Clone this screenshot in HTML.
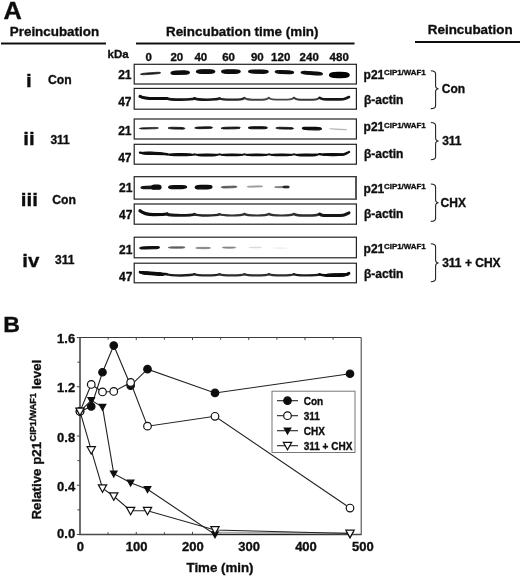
<!DOCTYPE html>
<html lang="en"><head><meta charset="utf-8"><title>Figure</title>
<style>html,body{margin:0;padding:0;background:#fff}svg{display:block}text{font-family:"Liberation Sans", sans-serif;font-weight:bold;fill:#111;stroke:#111;stroke-width:0.35px;stroke-linejoin:round}</style>
</head><body>
<svg width="520" height="578" viewBox="0 0 520 578">
<defs><filter id="b" x="-5%" y="-50%" width="110%" height="200%"><feGaussianBlur stdDeviation="0.55"/></filter>
<filter id="t" x="-5%" y="-5%" width="110%" height="110%"><feGaussianBlur stdDeviation="0.3"/></filter></defs>
<rect width="520" height="578" fill="#fff"/>
<g filter="url(#t)">
<text transform="translate(3.6 18.6) scale(1.08 1)" font-size="23.5" stroke-width="0.6">A</text>
<text transform="translate(3.2 332) scale(1.05 1)" font-size="22" stroke-width="0.6">B</text>
<text x="9.8" y="36.3" font-size="13.4" text-anchor="start">Preincubation</text>
<text x="166" y="36.4" font-size="13.4" text-anchor="start">Reincubation time (min)</text>
<text x="427.8" y="34.4" font-size="13.4" text-anchor="start">Reincubation</text>
<g stroke="#111" stroke-width="1.8">
<line x1="1" y1="43.5" x2="106" y2="43.5"/>
<line x1="136" y1="43.5" x2="354.5" y2="43.5"/>
<line x1="415" y1="42" x2="520" y2="42"/>
</g>
<text x="107.5" y="57.6" font-size="11.5" text-anchor="start">kDa</text>
<text x="148.7" y="61.2" font-size="11.5" text-anchor="middle">0</text>
<text x="176.8" y="61.2" font-size="11.5" text-anchor="middle">20</text>
<text x="200.8" y="61.2" font-size="11.5" text-anchor="middle">40</text>
<text x="228.6" y="61.2" font-size="11.5" text-anchor="middle">60</text>
<text x="257.3" y="61.2" font-size="11.5" text-anchor="middle">90</text>
<text x="280.7" y="61.2" font-size="11.5" text-anchor="middle">120</text>
<text x="309.2" y="61.2" font-size="11.5" text-anchor="middle">240</text>
<text x="339.2" y="61.2" font-size="11.5" text-anchor="middle">480</text>
<text transform="translate(26.1 87.4) scale(1.09 1)" font-size="18.8" stroke-width="0.7">i</text>
<text transform="translate(23.3 144.9) scale(1.09 1)" font-size="18.8" stroke-width="0.7">ii</text>
<text transform="translate(20.8 205.6) scale(1.09 1)" font-size="18.8" stroke-width="0.7">iii</text>
<text transform="translate(22.2 267.1) scale(1.09 1)" font-size="18.8" stroke-width="0.7">iv</text>
<text x="48" y="84.3" font-size="12.2" text-anchor="start">Con</text>
<text x="50.4" y="144.1" font-size="12" text-anchor="start">311</text>
<text x="52.3" y="204" font-size="12.2" text-anchor="start">Con</text>
<text x="55.1" y="263.9" font-size="12" text-anchor="start">311</text>
<rect x="134.2" y="64.3" width="222.2" height="19.7" fill="#fff" stroke="#222" stroke-width="1.2"/>
<text x="131.5" y="78.5" font-size="12" text-anchor="end">21</text>
<text x="363.6" y="79.2" font-size="12">p21<tspan font-size="7.9" dy="-3.8" dx="-0.3">CIP1/WAF1</tspan></text>
<rect x="134.2" y="88.4" width="222.2" height="20.8" fill="#fff" stroke="#222" stroke-width="1.2"/>
<text x="131.5" y="105.7" font-size="12" text-anchor="end">47</text>
<text x="364" y="103.5" font-size="12">β-actin</text>
<rect x="134.2" y="119" width="222.2" height="20" fill="#fff" stroke="#222" stroke-width="1.2"/>
<text x="131.5" y="134.7" font-size="12" text-anchor="end">21</text>
<text x="363.6" y="131.3" font-size="12">p21<tspan font-size="7.9" dy="-3.8" dx="-0.3">CIP1/WAF1</tspan></text>
<rect x="134.2" y="144.3" width="222.2" height="19.9" fill="#fff" stroke="#222" stroke-width="1.2"/>
<text x="131.5" y="161.9" font-size="12" text-anchor="end">47</text>
<text x="364" y="157.8" font-size="12">β-actin</text>
<rect x="134.2" y="176.7" width="222.2" height="22.4" fill="#fff" stroke="#222" stroke-width="1.2"/>
<text x="132.4" y="191.8" font-size="12" text-anchor="end">21</text>
<text x="363.6" y="192.5" font-size="12">p21<tspan font-size="7.9" dy="-3.8" dx="-0.3">CIP1/WAF1</tspan></text>
<rect x="134.2" y="204" width="222.2" height="20.2" fill="#fff" stroke="#222" stroke-width="1.2"/>
<text x="132.4" y="219.2" font-size="12" text-anchor="end">47</text>
<text x="364" y="218.3" font-size="12">β-actin</text>
<rect x="134.2" y="237.2" width="222.2" height="20.6" fill="#fff" stroke="#222" stroke-width="1.2"/>
<text x="132.4" y="253.5" font-size="12" text-anchor="end">21</text>
<text x="363.6" y="252.6" font-size="12">p21<tspan font-size="7.9" dy="-3.8" dx="-0.3">CIP1/WAF1</tspan></text>
<rect x="134.2" y="263.2" width="222.2" height="19.6" fill="#fff" stroke="#222" stroke-width="1.2"/>
<text x="132.4" y="280.7" font-size="12" text-anchor="end">47</text>
<text x="364" y="278" font-size="12">β-actin</text>
<line x1="356" y1="176.7" x2="356" y2="199.1" stroke="#555" stroke-width="2"/>
<path d="M430.8 70.8 Q435.6 70.8 435.6 74.0 L435.6 85.6 Q435.6 88.8 438.6 88.8 Q435.6 88.8 435.6 92.0 L435.6 105.39999999999999 Q435.6 108.6 430.8 108.6" fill="none" stroke="#222" stroke-width="1.1"/>
<text x="441.8" y="93" font-size="12" text-anchor="start">Con</text>
<path d="M430.8 122.5 Q435.6 122.5 435.6 125.7 L435.6 137.8 Q435.6 141 438.6 141 Q435.6 141 435.6 144.2 L435.6 156.60000000000002 Q435.6 159.8 430.8 159.8" fill="none" stroke="#222" stroke-width="1.1"/>
<text x="442.2" y="145" font-size="12" text-anchor="start">311</text>
<path d="M430.8 184 Q435.6 184 435.6 187.2 L435.6 199.60000000000002 Q435.6 202.8 438.6 202.8 Q435.6 202.8 435.6 206.0 L435.6 218.20000000000002 Q435.6 221.4 430.8 221.4" fill="none" stroke="#222" stroke-width="1.1"/>
<text x="440.6" y="207" font-size="12" text-anchor="start">CHX</text>
<path d="M430.8 243.8 Q435.6 243.8 435.6 247.0 L435.6 259.8 Q435.6 263 438.6 263 Q435.6 263 435.6 266.2 L435.6 278.6 Q435.6 281.8 430.8 281.8" fill="none" stroke="#222" stroke-width="1.1"/>
<text x="442.2" y="266.7" font-size="12" text-anchor="start">311 + CHX</text>
</g>
<g filter="url(#b)" stroke-linecap="round" fill="none">
<path d="M140.8 74.2 C140.8 73.65 142.9 73.27 146.7 73.0 L154.7 72.44 C158.5 72.17 160.6 72.25 160.6 72.8 C160.6 73.35 158.5 73.73 154.7 74.0 L146.7 74.56 C142.9 74.83 140.8 74.75 140.8 74.2Z" fill="#1f1f1f" stroke="#1f1f1f" stroke-width="0.84" stroke-linejoin="round"/>
<path d="M171.1 72.9 C171.1 71.82 173.0 71.31 176.6 71.23 L183.8 71.07 C187.4 70.99 189.3 71.42 189.3 72.5 C189.3 73.58 187.4 74.09 183.8 74.17 L176.6 74.33 C173.0 74.41 171.1 73.98 171.1 72.9Z" fill="#080808" stroke="#080808" stroke-width="1.4" stroke-linejoin="round"/>
<path d="M196.5 71.6 C196.5 70.38 198.4 69.85 202.0 69.85 L209.2 69.85 C212.8 69.85 214.7 70.38 214.7 71.6 C214.7 72.82 212.8 73.35 209.2 73.35 L202.0 73.35 C198.4 73.35 196.5 72.82 196.5 71.6Z" fill="#080808" stroke="#080808" stroke-width="1.4" stroke-linejoin="round"/>
<path d="M221.7 71.6 C221.7 70.44 223.6 69.95 227.2 69.95 L234.6 69.95 C238.2 69.95 240.1 70.44 240.1 71.6 C240.1 72.75 238.2 73.25 234.6 73.25 L227.2 73.25 C223.6 73.25 221.7 72.75 221.7 71.6Z" fill="#080808" stroke="#080808" stroke-width="1.4" stroke-linejoin="round"/>
<path d="M248.7 71.6 C248.7 70.58 250.7 70.17 254.5 70.21 L262.3 70.29 C266.1 70.33 268.1 70.78 268.1 71.8 C268.1 72.81 266.1 73.23 262.3 73.19 L254.5 73.11 C250.7 73.07 248.7 72.61 248.7 71.6Z" fill="#080808" stroke="#080808" stroke-width="1.4" stroke-linejoin="round"/>
<path d="M275.3 71.8 C275.3 70.91 277.2 70.59 280.8 70.71 L288.0 70.95 C291.6 71.07 293.5 71.51 293.5 72.4 C293.5 73.29 291.6 73.61 288.0 73.49 L280.8 73.25 C277.2 73.13 275.3 72.69 275.3 71.8Z" fill="#080808" stroke="#080808" stroke-width="1.36" stroke-linejoin="round"/>
<path d="M301.2 72.4 C301.2 71.51 303.4 71.3 307.5 71.61 L316.0 72.25 C320.1 72.56 322.3 73.11 322.3 74.0 C322.3 74.89 320.1 75.1 316.0 74.79 L307.5 74.15 C303.4 73.84 301.2 73.29 301.2 72.4Z" fill="#080808" stroke="#080808" stroke-width="1.36" stroke-linejoin="round"/>
<path d="M329.6 75.0 C329.6 73.18 332.5 72.4 337.8 72.4 L340.9 72.4 C346.2 72.4 349.1 73.18 349.1 75.0 C349.1 76.82 346.2 77.6 340.9 77.6 L337.8 77.6 C332.5 77.6 329.6 76.82 329.6 75.0Z" fill="#050505" stroke="#050505" stroke-width="1.4" stroke-linejoin="round"/>
<path d="M139.6 128.5 C139.6 128.02 141.5 127.76 145.2 127.66 L152.8 127.47 C156.5 127.37 158.4 127.52 158.4 128.0 C158.4 128.48 156.5 128.74 152.8 128.84 L145.2 129.03 C141.5 129.13 139.6 128.98 139.6 128.5Z" fill="#1f1f1f" stroke="#1f1f1f" stroke-width="0.73" stroke-linejoin="round"/>
<path d="M168.5 128.0 C168.5 127.41 170.2 127.2 173.4 127.28 L180.0 127.44 C183.2 127.51 184.9 127.81 184.9 128.4 C184.9 128.99 183.2 129.2 180.0 129.12 L173.4 128.97 C170.2 128.89 168.5 128.59 168.5 128.0Z" fill="#191919" stroke="#191919" stroke-width="0.91" stroke-linejoin="round"/>
<path d="M195.1 127.9 C195.1 127.31 196.9 127.02 200.3 126.97 L207.3 126.84 C210.7 126.79 212.5 127.01 212.5 127.6 C212.5 128.19 210.7 128.48 207.3 128.53 L200.3 128.66 C196.9 128.71 195.1 128.49 195.1 127.9Z" fill="#141414" stroke="#141414" stroke-width="0.91" stroke-linejoin="round"/>
<path d="M221.5 128.2 C221.5 127.61 223.4 127.31 227.1 127.23 L234.7 127.08 C238.4 127.0 240.3 127.21 240.3 127.8 C240.3 128.39 238.4 128.69 234.7 128.77 L227.1 128.92 C223.4 129.0 221.5 128.79 221.5 128.2Z" fill="#141414" stroke="#141414" stroke-width="0.91" stroke-linejoin="round"/>
<path d="M248.5 127.7 C248.5 127.02 250.5 126.73 254.1 126.73 L261.6 126.73 C265.2 126.73 267.2 127.02 267.2 127.7 C267.2 128.38 265.2 128.68 261.6 128.68 L254.1 128.68 C250.5 128.68 248.5 128.38 248.5 127.7Z" fill="#0d0d0d" stroke="#0d0d0d" stroke-width="1.05" stroke-linejoin="round"/>
<path d="M276.3 128.0 C276.3 127.41 278.1 127.2 281.4 127.28 L288.4 127.44 C291.7 127.51 293.5 127.81 293.5 128.4 C293.5 128.99 291.7 129.2 288.4 129.12 L281.4 128.97 C278.1 128.89 276.3 128.59 276.3 128.0Z" fill="#141414" stroke="#141414" stroke-width="0.91" stroke-linejoin="round"/>
<path d="M302.4 128.3 C302.4 127.48 304.4 127.18 308.1 127.28 L315.7 127.48 C319.4 127.58 321.4 127.98 321.4 128.8 C321.4 129.62 319.4 129.92 315.7 129.82 L308.1 129.62 C304.4 129.52 302.4 129.12 302.4 128.3Z" fill="#0a0a0a" stroke="#0a0a0a" stroke-width="1.26" stroke-linejoin="round"/>
<path d="M329.7 128.8 C329.7 128.53 331.5 128.52 334.9 128.71 L341.9 129.11 C345.3 129.31 347.1 129.53 347.1 129.8 C347.1 130.07 345.3 130.09 341.9 129.89 L334.9 129.49 C331.5 129.29 329.7 129.07 329.7 128.8Z" fill="#b2b2b2" stroke="#b2b2b2" stroke-width="0.42" stroke-linejoin="round"/>
<path d="M141.0 187.6 C141.0 186.76 142.8 186.36 145.9 186.3 L152.5 186.19 C155.6 186.13 157.4 186.46 157.4 187.3 C157.4 188.14 155.6 188.54 152.5 188.6 L145.9 188.72 C142.8 188.77 141.0 188.44 141.0 187.6Z" fill="#191919" stroke="#191919" stroke-width="1.29" stroke-linejoin="round"/>
<path d="M151.7 187.2 C151.7 185.87 152.7 185.3 154.5 185.3 L158.1 185.3 C159.9 185.3 160.9 185.87 160.9 187.2 C160.9 188.53 159.9 189.1 158.1 189.1 L154.5 189.1 C152.7 189.1 151.7 188.53 151.7 187.2Z" fill="#080808" stroke="#080808" stroke-width="1.4" stroke-linejoin="round"/>
<path d="M168.7 187.3 C168.7 186.32 170.6 185.87 174.0 185.81 L181.2 185.69 C184.6 185.63 186.5 186.02 186.5 187.0 C186.5 187.98 184.6 188.43 181.2 188.49 L174.0 188.61 C170.6 188.67 168.7 188.28 168.7 187.3Z" fill="#0d0d0d" stroke="#0d0d0d" stroke-width="1.4" stroke-linejoin="round"/>
<path d="M195.3 187.2 C195.3 186.01 197.0 185.48 200.3 185.44 L206.9 185.36 C210.2 185.32 211.9 185.81 211.9 187.0 C211.9 188.19 210.2 188.72 206.9 188.76 L200.3 188.84 C197.0 188.88 195.3 188.39 195.3 187.2Z" fill="#080808" stroke="#080808" stroke-width="1.4" stroke-linejoin="round"/>
<path d="M221.4 187.3 C221.4 186.73 223.1 186.44 226.1 186.34 L232.2 186.14 C235.2 186.04 236.9 186.23 236.9 186.8 C236.9 187.37 235.2 187.66 232.2 187.76 L226.1 187.96 C223.1 188.06 221.4 187.87 221.4 187.3Z" fill="#595959" stroke="#595959" stroke-width="0.88" stroke-linejoin="round"/>
<path d="M247.3 186.7 C247.3 186.27 248.9 186.05 251.9 185.99 L258.1 185.87 C261.1 185.81 262.7 185.97 262.7 186.4 C262.7 186.83 261.1 187.05 258.1 187.11 L251.9 187.23 C248.9 187.29 247.3 187.13 247.3 186.7Z" fill="#9e9e9e" stroke="#9e9e9e" stroke-width="0.66" stroke-linejoin="round"/>
<path d="M274.9 187.1 C274.9 186.67 276.1 186.47 278.2 186.45 L282.4 186.41 C284.5 186.39 285.7 186.57 285.7 187.0 C285.7 187.43 284.5 187.63 282.4 187.65 L278.2 187.69 C276.1 187.71 274.9 187.53 274.9 187.1Z" fill="#737373" stroke="#737373" stroke-width="0.66" stroke-linejoin="round"/>
<path d="M283.0 187.0 C283.0 186.38 283.6 186.12 284.9 186.12 L287.4 186.12 C288.7 186.12 289.3 186.38 289.3 187.0 C289.3 187.62 288.7 187.88 287.4 187.88 L284.9 187.88 C283.6 187.88 283.0 187.62 283.0 187.0Z" fill="#262626" stroke="#262626" stroke-width="0.94" stroke-linejoin="round"/>
<path d="M139.8 248.0 C139.8 247.23 141.9 246.84 145.7 246.75 L153.5 246.55 C157.3 246.45 159.4 246.73 159.4 247.5 C159.4 248.27 157.3 248.66 153.5 248.75 L145.7 248.95 C141.9 249.05 139.8 248.77 139.8 248.0Z" fill="#121212" stroke="#121212" stroke-width="1.19" stroke-linejoin="round"/>
<path d="M168.4 247.6 C168.4 247.1 170.1 246.86 173.4 246.82 L180.0 246.75 C183.3 246.71 185.0 246.9 185.0 247.4 C185.0 247.9 183.3 248.14 180.0 248.18 L173.4 248.25 C170.1 248.29 168.4 248.1 168.4 247.6Z" fill="#616161" stroke="#616161" stroke-width="0.77" stroke-linejoin="round"/>
<path d="M196.2 248.0 C196.2 247.54 197.7 247.35 200.4 247.35 L206.2 247.35 C208.9 247.35 210.5 247.54 210.5 248.0 C210.5 248.46 208.9 248.65 206.2 248.65 L200.4 248.65 C197.7 248.65 196.2 248.46 196.2 248.0Z" fill="#808080" stroke="#808080" stroke-width="0.7" stroke-linejoin="round"/>
<path d="M222.6 247.6 C222.6 247.17 224.0 246.98 226.5 246.98 L231.8 246.98 C234.3 246.98 235.7 247.17 235.7 247.6 C235.7 248.03 234.3 248.22 231.8 248.22 L226.5 248.22 C224.0 248.22 222.6 248.03 222.6 247.6Z" fill="#858585" stroke="#858585" stroke-width="0.66" stroke-linejoin="round"/>
<path d="M249.2 247.5 C249.2 247.2 250.5 247.07 253.0 247.07 L258.0 247.07 C260.5 247.07 261.8 247.2 261.8 247.5 C261.8 247.8 260.5 247.93 258.0 247.93 L253.0 247.93 C250.5 247.93 249.2 247.8 249.2 247.5Z" fill="#d9d9d9" stroke="#d9d9d9" stroke-width="0.45" stroke-linejoin="round"/>
<path d="M273.7 248.0 C273.7 247.75 275.1 247.67 277.7 247.71 L283.1 247.78 C285.7 247.82 287.1 247.95 287.1 248.2 C287.1 248.45 285.7 248.53 283.1 248.49 L277.7 248.41 C275.1 248.38 273.7 248.25 273.7 248.0Z" fill="#ebebeb" stroke="#ebebeb" stroke-width="0.39" stroke-linejoin="round"/>
<path d="M140 96.4 C144.5 98.6 149 98.6 153.5 98.6 S164.6 98.6 167 98.4" stroke="#080808" stroke-width="3.0"/>
<path d="M167 98.4 C169.0 99.7 171 99.7 180.8 99.7 S192.2 99.7 194.6 98.4" stroke="#141414" stroke-width="2.7"/>
<path d="M194.6 98.4 C196.6 99.7 198.6 99.7 207.05 99.7 S217.1 99.7 219.5 98.4" stroke="#191919" stroke-width="2.5"/>
<path d="M219.5 98.4 C221.5 99.6 223.5 99.6 232.0 99.6 S242.1 99.6 244.5 98.0" stroke="#262626" stroke-width="2.3"/>
<path d="M244.5 98.0 C246.5 99.7 248.5 99.7 256.75 99.7 S266.6 99.7 269 97.8" stroke="#424242" stroke-width="1.9"/>
<path d="M269 97.8 C271.0 99.7 273 99.7 281.5 99.7 S291.6 99.7 294 97.8" stroke="#474747" stroke-width="1.8"/>
<path d="M294 97.8 C296.0 99.7 298 99.7 306.8 99.7 S317.2 99.7 319.6 97.8" stroke="#383838" stroke-width="2.0"/>
<path d="M319.6 97.8 C321.6 99.4 323.6 99.4 334.3 99.4 S343.6 99.4 349 97.0" stroke="#191919" stroke-width="2.6"/>
<path d="M140 152.6 C144.5 153.8 149 153.8 153.5 153.8 S164.6 153.8 167 154.2" stroke="#080808" stroke-width="2.4"/>
<path d="M167 154.2 C169.0 154.8 171 154.8 180.8 154.8 S192.2 154.8 194.6 154.4" stroke="#0d0d0d" stroke-width="2.0"/>
<path d="M194.6 154.4 C196.6 155 198.6 155 207.05 155 S217.1 155 219.5 154.4" stroke="#121212" stroke-width="1.9"/>
<path d="M219.5 154.4 C221.5 155 223.5 155 232.0 155 S242.1 155 244.5 154.4" stroke="#121212" stroke-width="1.8"/>
<path d="M244.5 154.4 C246.5 155 248.5 155 256.75 155 S266.6 155 269 154.4" stroke="#121212" stroke-width="1.8"/>
<path d="M269 154.4 C271.0 155 273 155 281.5 155 S291.6 155 294 154.4" stroke="#121212" stroke-width="1.8"/>
<path d="M294 154.4 C296.0 155 298 155 306.8 155 S317.2 155 319.6 154.2" stroke="#121212" stroke-width="1.9"/>
<path d="M319.6 154.2 C321.6 154.8 323.6 154.8 334.3 154.8 S343.6 154.8 349 152.0" stroke="#0d0d0d" stroke-width="2.4"/>
<path d="M140.6 153.0 C140.6 152.23 144.4 151.99 151.5 152.17 L154.0 152.22 C161.1 152.4 164.9 152.83 164.9 153.6 C164.9 154.37 161.1 154.61 154.0 154.43 L151.5 154.38 C144.4 154.2 140.6 153.77 140.6 153.0Z" fill="#0d0d0d" stroke="#0d0d0d" stroke-width="1.19" stroke-linejoin="round"/>
<path d="M169.1 154.7 C169.1 153.95 172.8 153.62 179.6 153.62 L182.0 153.62 C188.8 153.62 192.5 153.95 192.5 154.7 C192.5 155.45 188.8 155.77 182.0 155.77 L179.6 155.77 C172.8 155.77 169.1 155.45 169.1 154.7Z" fill="#0d0d0d" stroke="#0d0d0d" stroke-width="1.15" stroke-linejoin="round"/>
<path d="M196.6 154.9 C196.6 154.22 199.9 153.93 206.0 153.93 L208.1 153.93 C214.2 153.93 217.5 154.22 217.5 154.9 C217.5 155.58 214.2 155.88 208.1 155.88 L206.0 155.88 C199.9 155.88 196.6 155.58 196.6 154.9Z" fill="#0d0d0d" stroke="#0d0d0d" stroke-width="1.05" stroke-linejoin="round"/>
<path d="M221.5 154.9 C221.5 154.24 224.8 153.96 231.0 153.96 L233.0 153.96 C239.2 153.96 242.5 154.24 242.5 154.9 C242.5 155.56 239.2 155.84 233.0 155.84 L231.0 155.84 C224.8 155.84 221.5 155.56 221.5 154.9Z" fill="#0d0d0d" stroke="#0d0d0d" stroke-width="1.01" stroke-linejoin="round"/>
<path d="M246.5 154.9 C246.5 154.24 249.7 153.96 255.7 153.96 L257.8 153.96 C263.8 153.96 267.0 154.24 267.0 154.9 C267.0 155.56 263.8 155.84 257.8 155.84 L255.7 155.84 C249.7 155.84 246.5 155.56 246.5 154.9Z" fill="#0d0d0d" stroke="#0d0d0d" stroke-width="1.01" stroke-linejoin="round"/>
<path d="M271.0 154.9 C271.0 154.24 274.3 153.96 280.5 153.96 L282.5 153.96 C288.7 153.96 292.0 154.24 292.0 154.9 C292.0 155.56 288.7 155.84 282.5 155.84 L280.5 155.84 C274.3 155.84 271.0 155.56 271.0 154.9Z" fill="#0d0d0d" stroke="#0d0d0d" stroke-width="1.01" stroke-linejoin="round"/>
<path d="M296.0 154.9 C296.0 154.22 299.4 153.93 305.7 153.93 L307.9 153.93 C314.2 153.93 317.6 154.22 317.6 154.9 C317.6 155.58 314.2 155.88 307.9 155.88 L305.7 155.88 C299.4 155.88 296.0 155.58 296.0 154.9Z" fill="#0d0d0d" stroke="#0d0d0d" stroke-width="1.05" stroke-linejoin="round"/>
<path d="M321.7 154.6 C321.7 153.85 325.3 153.53 331.9 153.53 L334.2 153.53 C340.8 153.53 344.4 153.85 344.4 154.6 C344.4 155.35 340.8 155.67 334.2 155.67 L331.9 155.67 C325.3 155.67 321.7 155.35 321.7 154.6Z" fill="#0d0d0d" stroke="#0d0d0d" stroke-width="1.15" stroke-linejoin="round"/>
<path d="M140 210.8 C144.5 214.6 149 214.6 153.5 214.6 S164.6 214.6 167 214.0" stroke="#0d0d0d" stroke-width="3.2"/>
<path d="M167 214.0 C169.0 215.4 171 215.4 180.8 215.4 S192.2 215.4 194.6 214.2" stroke="#191919" stroke-width="2.8"/>
<path d="M194.6 214.2 C196.6 215.5 198.6 215.5 207.05 215.5 S217.1 215.5 219.5 214.2" stroke="#262626" stroke-width="2.4"/>
<path d="M219.5 214.2 C221.5 215.5 223.5 215.5 232.0 215.5 S242.1 215.5 244.5 214.0" stroke="#333333" stroke-width="2.2"/>
<path d="M244.5 214.0 C246.5 215.5 248.5 215.5 256.75 215.5 S266.6 215.5 269 214.0" stroke="#333333" stroke-width="2.2"/>
<path d="M269 214.0 C271.0 215.5 273 215.5 281.5 215.5 S291.6 215.5 294 214.0" stroke="#333333" stroke-width="2.2"/>
<path d="M294 214.0 C296.0 215.5 298 215.5 306.8 215.5 S317.2 215.5 319.6 214.0" stroke="#2e2e2e" stroke-width="2.3"/>
<path d="M319.6 214.0 C321.6 215.6 323.6 215.6 334.3 215.6 S343.6 215.6 349 212.8" stroke="#121212" stroke-width="3.0"/>
<path d="M140 272.2 C144.5 273.8 149 273.8 153.5 273.8 S164.6 273.8 167 274.2" stroke="#080808" stroke-width="2.6"/>
<path d="M167 274.2 C169.0 275.4 171 275.4 180.8 275.4 S192.2 275.4 194.6 274.2" stroke="#1f1f1f" stroke-width="2.5"/>
<path d="M194.6 274.2 C196.6 275.4 198.6 275.4 207.05 275.4 S217.1 275.4 219.5 274.2" stroke="#262626" stroke-width="2.3"/>
<path d="M219.5 274.2 C221.5 275.4 223.5 275.4 232.0 275.4 S242.1 275.4 244.5 274.2" stroke="#2e2e2e" stroke-width="2.2"/>
<path d="M244.5 274.2 C246.5 275.4 248.5 275.4 256.75 275.4 S266.6 275.4 269 274.2" stroke="#2e2e2e" stroke-width="2.2"/>
<path d="M269 274.2 C271.0 275.4 273 275.4 281.5 275.4 S291.6 275.4 294 274.2" stroke="#2e2e2e" stroke-width="2.2"/>
<path d="M294 274.2 C296.0 275.4 298 275.4 306.8 275.4 S317.2 275.4 319.6 274.4" stroke="#1f1f1f" stroke-width="2.4"/>
<path d="M319.6 274.4 C321.6 275.6 323.6 275.6 334.3 275.6 S343.6 275.6 349 273.2" stroke="#080808" stroke-width="2.8"/>
<path d="M140.2 272.6 C140.2 271.71 142.7 271.52 147.4 271.87 L157.1 272.59 C161.8 272.94 164.3 273.51 164.3 274.4 C164.3 275.29 161.8 275.48 157.1 275.13 L147.4 274.41 C142.7 274.06 140.2 273.49 140.2 272.6Z" fill="#080808" stroke="#080808" stroke-width="1.36" stroke-linejoin="round"/>
<path d="M324.6 275.4 C324.6 274.6 327.2 274.15 331.9 273.96 L341.6 273.56 C346.3 273.37 348.9 273.6 348.9 274.4 C348.9 275.2 346.3 275.64 341.6 275.84 L331.9 276.24 C327.2 276.43 324.6 276.2 324.6 275.4Z" fill="#080808" stroke="#080808" stroke-width="1.22" stroke-linejoin="round"/>
</g>
<g filter="url(#t)">
<rect x="80.0" y="337.5" width="281.2" height="197.0" fill="#fff" stroke="none"/>
<path d="M80.0 337.5H361.2V534.5" fill="none" stroke="#3a3a3a" stroke-width="1"/>
<path d="M80.0 337.0V534.5H361.7" fill="none" stroke="#4a4a4a" stroke-width="1.6"/>
<path d="M80.0 534.5h-3.2M80.0 509.88h-2.6M80.0 485.26h-3.2M80.0 460.64h-2.6M80.0 436.02h-3.2M80.0 411.4h-2.6M80.0 386.78h-3.2M80.0 362.16h-2.6M80.0 337.54h-3.2M108.12 534.5v-2.2M108.12 337.5v2.2M136.25 534.5v-2.6M136.25 337.5v2.6M164.38 534.5v-2.2M164.38 337.5v2.2M192.5 534.5v-2.6M192.5 337.5v2.6M220.62 534.5v-2.2M220.62 337.5v2.2M248.75 534.5v-2.6M248.75 337.5v2.6M276.88 534.5v-2.2M276.88 337.5v2.2M305.0 534.5v-2.6M305.0 337.5v2.6M333.12 534.5v-2.2M333.12 337.5v2.2" stroke="#444" stroke-width="1" fill="none"/>
<text x="75.2" y="538.2" font-size="13" text-anchor="end">0.0</text>
<text x="75.2" y="490.8" font-size="13" text-anchor="end">0.4</text>
<text x="75.2" y="441.5" font-size="13" text-anchor="end">0.8</text>
<text x="75.2" y="392.3" font-size="13" text-anchor="end">1.2</text>
<text x="75.2" y="343.0" font-size="13" text-anchor="end">1.6</text>
<text x="80.3" y="550.6" font-size="13" text-anchor="middle">0</text>
<text x="136.55" y="550.6" font-size="13" text-anchor="middle">100</text>
<text x="192.8" y="550.6" font-size="13" text-anchor="middle">200</text>
<text x="249.05" y="550.6" font-size="13" text-anchor="middle">300</text>
<text x="306.0" y="550.6" font-size="13" text-anchor="middle">400</text>
<text x="362.85" y="550.6" font-size="13" text-anchor="middle">500</text>
<text x="220" y="571.5" font-size="13.3" text-anchor="middle">Time (min)</text>
<text transform="translate(40.6 519.5) rotate(-90)" font-size="13.3">Relative p21<tspan font-size="9.2" dy="-4.8" dx="0.4">CIP1/WAF1</tspan><tspan dy="4.8"> level</tspan></text>
<polyline points="80.0,411.4 91.25,406.48 102.5,372.25 113.75,345.54 130.62,385.55 147.5,369.18 215.0,392.94 350.0,373.73" fill="none" stroke="#222" stroke-width="1.1"/>
<circle cx="80.0" cy="411.4" r="3.75" fill="#111" stroke="#111" stroke-width="1.2"/>
<circle cx="91.25" cy="406.48" r="3.75" fill="#111" stroke="#111" stroke-width="1.2"/>
<circle cx="102.5" cy="372.25" r="3.75" fill="#111" stroke="#111" stroke-width="1.2"/>
<circle cx="113.75" cy="345.54" r="3.75" fill="#111" stroke="#111" stroke-width="1.2"/>
<circle cx="130.62" cy="385.55" r="3.75" fill="#111" stroke="#111" stroke-width="1.2"/>
<circle cx="147.5" cy="369.18" r="3.75" fill="#111" stroke="#111" stroke-width="1.2"/>
<circle cx="215.0" cy="392.94" r="3.75" fill="#111" stroke="#111" stroke-width="1.2"/>
<circle cx="350.0" cy="373.73" r="3.75" fill="#111" stroke="#111" stroke-width="1.2"/>
<polyline points="80.0,411.4 91.25,384.44 102.5,391.95 113.75,391.46 130.62,382.47 147.5,426.17 215.0,416.32 350.0,508.03" fill="none" stroke="#222" stroke-width="1.1"/>
<circle cx="80.0" cy="411.4" r="3.8" fill="#fff" stroke="#111" stroke-width="1.2"/>
<circle cx="91.25" cy="384.44" r="3.8" fill="#fff" stroke="#111" stroke-width="1.2"/>
<circle cx="102.5" cy="391.95" r="3.8" fill="#fff" stroke="#111" stroke-width="1.2"/>
<circle cx="113.75" cy="391.46" r="3.8" fill="#fff" stroke="#111" stroke-width="1.2"/>
<circle cx="130.62" cy="382.47" r="3.8" fill="#fff" stroke="#111" stroke-width="1.2"/>
<circle cx="147.5" cy="426.17" r="3.8" fill="#fff" stroke="#111" stroke-width="1.2"/>
<circle cx="215.0" cy="416.32" r="3.8" fill="#fff" stroke="#111" stroke-width="1.2"/>
<circle cx="350.0" cy="508.03" r="3.8" fill="#fff" stroke="#111" stroke-width="1.2"/>
<polyline points="80.0,411.4 91.25,400.32 102.5,407.09 113.75,473.69 130.62,482.8 147.5,489.32 215.0,534.5 350.0,534.5" fill="none" stroke="#222" stroke-width="1.1"/>
<line x1="218.38" y1="532.8" x2="346.62" y2="533.2" stroke="#aaa" stroke-width="1.9"/>
<path d="M76.7 408.75h6.6l-3.3 5.9z" fill="#111" stroke="#111" stroke-width="1.2" stroke-linejoin="miter"/>
<path d="M87.95 397.67h6.6l-3.3 5.9z" fill="#111" stroke="#111" stroke-width="1.2" stroke-linejoin="miter"/>
<path d="M99.2 404.44h6.6l-3.3 5.9z" fill="#111" stroke="#111" stroke-width="1.2" stroke-linejoin="miter"/>
<path d="M110.45 471.04h6.6l-3.3 5.9z" fill="#111" stroke="#111" stroke-width="1.2" stroke-linejoin="miter"/>
<path d="M127.32 480.15h6.6l-3.3 5.9z" fill="#111" stroke="#111" stroke-width="1.2" stroke-linejoin="miter"/>
<path d="M144.2 486.67h6.6l-3.3 5.9z" fill="#111" stroke="#111" stroke-width="1.2" stroke-linejoin="miter"/>
<path d="M211.7 531.85h6.6l-3.3 5.9z" fill="#111" stroke="#111" stroke-width="1.2" stroke-linejoin="miter"/>
<path d="M346.7 531.85h6.6l-3.3 5.9z" fill="#111" stroke="#111" stroke-width="1.2" stroke-linejoin="miter"/>
<polyline points="80.0,411.4 91.25,450.05 102.5,488.21 113.75,496.22 130.62,510.74 147.5,510.74 215.0,529.95 350.0,533.52" fill="none" stroke="#222" stroke-width="1.1"/>
<path d="M75.85 408.07h8.3l-4.15 7.4z" fill="#fff" stroke="#111" stroke-width="1.2" stroke-linejoin="miter"/>
<path d="M87.1 446.72h8.3l-4.15 7.4z" fill="#fff" stroke="#111" stroke-width="1.2" stroke-linejoin="miter"/>
<path d="M98.35 484.88h8.3l-4.15 7.4z" fill="#fff" stroke="#111" stroke-width="1.2" stroke-linejoin="miter"/>
<path d="M109.6 492.89h8.3l-4.15 7.4z" fill="#fff" stroke="#111" stroke-width="1.2" stroke-linejoin="miter"/>
<path d="M126.47 507.41h8.3l-4.15 7.4z" fill="#fff" stroke="#111" stroke-width="1.2" stroke-linejoin="miter"/>
<path d="M143.35 507.41h8.3l-4.15 7.4z" fill="#fff" stroke="#111" stroke-width="1.2" stroke-linejoin="miter"/>
<path d="M210.85 526.62h8.3l-4.15 7.4z" fill="#fff" stroke="#111" stroke-width="1.2" stroke-linejoin="miter"/>
<path d="M345.85 530.19h8.3l-4.15 7.4z" fill="#fff" stroke="#111" stroke-width="1.2" stroke-linejoin="miter"/>
<rect x="272" y="391.2" width="83" height="61.3" fill="#fff" stroke="#777" stroke-width="1"/>
<line x1="277" y1="400.7" x2="298" y2="400.7" stroke="#222" stroke-width="1.1"/>
<circle cx="287.5" cy="400.7" r="3.75" fill="#111" stroke="#111" stroke-width="1.2"/>
<text x="303.7" y="404.8" font-size="10" text-anchor="start">Con</text>
<line x1="277" y1="415.7" x2="298" y2="415.7" stroke="#222" stroke-width="1.1"/>
<circle cx="287.5" cy="415.7" r="3.8" fill="#fff" stroke="#111" stroke-width="1.2"/>
<text x="303.7" y="419.8" font-size="10" text-anchor="start">311</text>
<line x1="277" y1="430.7" x2="298" y2="430.7" stroke="#222" stroke-width="1.1"/>
<path d="M284.2 428.05h6.6l-3.3 5.9z" fill="#111" stroke="#111" stroke-width="1.2" stroke-linejoin="miter"/>
<text x="303.7" y="434.8" font-size="10" text-anchor="start">CHX</text>
<line x1="277" y1="445.7" x2="298" y2="445.7" stroke="#222" stroke-width="1.1"/>
<path d="M283.35 442.37h8.3l-4.15 7.4z" fill="#fff" stroke="#111" stroke-width="1.2" stroke-linejoin="miter"/>
<text x="303.7" y="449.8" font-size="10" text-anchor="start">311 + CHX</text>
</g>
</svg>
</body></html>
